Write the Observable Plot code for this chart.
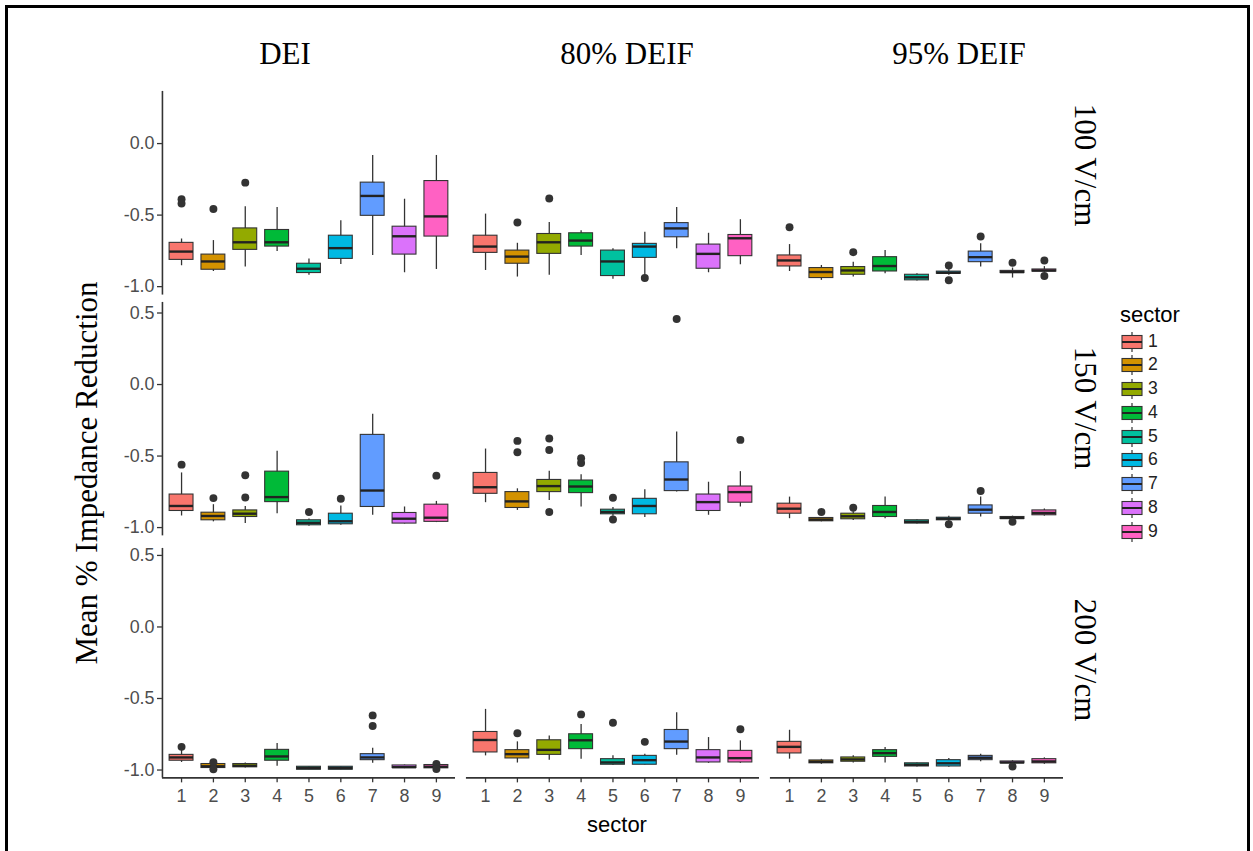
<!DOCTYPE html>
<html><head><meta charset="utf-8">
<script src="https://cdn.jsdelivr.net/npm/d3@7"></script>
<script src="https://cdn.jsdelivr.net/npm/@observablehq/plot@0.6"></script>
<style>
html,body{margin:0;padding:0;background:#fff;overflow:hidden;}
#root{position:relative;width:1253px;height:851px;overflow:hidden;background:#fff;}
.frame{position:absolute;left:5px;top:5px;width:1239px;height:900px;border:3px solid #000;border-bottom:none;}
.t{position:absolute;white-space:nowrap;line-height:1;color:#000;}
.serif{font-family:"Liberation Serif","Times New Roman",serif;font-size:31px;}
.sans{font-family:"Liberation Sans",Arial,Helvetica,sans-serif;}
.row{position:absolute;left:0;width:1064px;overflow:hidden;}
</style></head><body><div id="root"><div class="frame"></div></div>
<script>
// ---------- data ----------
const conditions = ["DEI", "80% DEIF", "95% DEIF"];
const fields = ["100 V/cm", "150 V/cm", "200 V/cm"];
const sectors = [1, 2, 3, 4, 5, 6, 7, 8, 9];
const palette = ["#F8766D","#D39200","#93AA00","#00BA38","#00C19F","#00B9E3","#619CFF","#DB72FB","#FF61C3"];

// each stat: [DEI, 80% DEIF, 95% DEIF] x sectors 1..9
const lo100  = [[-0.854,-0.894,-0.863,-0.755,-0.921,-0.845,-0.782,-0.903,-0.880],
                [-0.887,-0.933,-0.921,-0.782,-0.949,-0.921,-0.736,-0.903,-0.847],
                [-0.894,-0.956,-0.933,-0.910,-0.960,-0.920,-0.863,-0.940,-0.900]];
const q1_100 = [[-0.813,-0.882,-0.743,-0.720,-0.905,-0.806,-0.505,-0.776,-0.650],
                [-0.764,-0.840,-0.771,-0.720,-0.926,-0.799,-0.655,-0.875,-0.787],
                [-0.859,-0.940,-0.917,-0.894,-0.956,-0.910,-0.829,-0.905,-0.895]];
const med100 = [[-0.755,-0.824,-0.690,-0.690,-0.875,-0.731,-0.366,-0.648,-0.509],
                [-0.720,-0.790,-0.690,-0.678,-0.824,-0.720,-0.593,-0.771,-0.662],
                [-0.817,-0.898,-0.887,-0.856,-0.935,-0.903,-0.794,-0.898,-0.887]];
const q3_100 = [[-0.694,-0.776,-0.593,-0.604,-0.840,-0.644,-0.273,-0.581,-0.262],
                [-0.644,-0.748,-0.632,-0.627,-0.748,-0.701,-0.556,-0.706,-0.639],
                [-0.782,-0.870,-0.863,-0.794,-0.917,-0.895,-0.755,-0.890,-0.880]];
const hi100  = [[-0.667,-0.678,-0.442,-0.447,-0.806,-0.540,-0.083,-0.389,-0.083],
                [-0.493,-0.697,-0.551,-0.609,-0.736,-0.620,-0.447,-0.627,-0.532],
                [-0.706,-0.852,-0.829,-0.748,-0.910,-0.880,-0.701,-0.870,-0.860]];
const out100 = [["DEI",1,-0.389],["DEI",1,-0.419],["DEI",2,-0.458],["DEI",3,-0.273],
                ["80% DEIF",2,-0.551],["80% DEIF",3,-0.384],["80% DEIF",6,-0.940],
                ["95% DEIF",1,-0.585],["95% DEIF",3,-0.759],["95% DEIF",6,-0.852],["95% DEIF",6,-0.956],
                ["95% DEIF",7,-0.650],["95% DEIF",8,-0.833],["95% DEIF",9,-0.817],["95% DEIF",9,-0.926]];

const lo150  = [[-0.919,-0.960,-0.972,-0.903,-0.990,-0.984,-0.914,-0.975,-0.965],
                [-0.826,-0.880,-0.810,-0.856,-0.920,-0.930,-0.752,-0.914,-0.856],
                [-0.938,-0.960,-0.950,-0.938,-0.975,-0.960,-0.926,-0.945,-0.920]];
const q1_150 = [[-0.884,-0.949,-0.926,-0.822,-0.984,-0.977,-0.856,-0.972,-0.960],
                [-0.764,-0.863,-0.752,-0.759,-0.907,-0.907,-0.745,-0.884,-0.826],
                [-0.903,-0.956,-0.942,-0.926,-0.972,-0.949,-0.903,-0.940,-0.914]];
const med150 = [[-0.849,-0.919,-0.903,-0.787,-0.967,-0.956,-0.741,-0.938,-0.931],
                [-0.718,-0.817,-0.710,-0.713,-0.891,-0.849,-0.664,-0.822,-0.752],
                [-0.868,-0.944,-0.921,-0.891,-0.960,-0.938,-0.875,-0.933,-0.898]];
const q3_150 = [[-0.769,-0.896,-0.880,-0.609,-0.949,-0.903,-0.352,-0.898,-0.840],
                [-0.618,-0.752,-0.667,-0.671,-0.875,-0.799,-0.544,-0.769,-0.713],
                [-0.833,-0.933,-0.903,-0.849,-0.949,-0.931,-0.845,-0.926,-0.880]];
const hi150  = [[-0.618,-0.840,-0.852,-0.467,-0.940,-0.850,-0.208,-0.856,-0.817],
                [-0.451,-0.729,-0.606,-0.630,-0.860,-0.736,-0.331,-0.683,-0.609],
                [-0.787,-0.930,-0.890,-0.787,-0.945,-0.920,-0.787,-0.920,-0.870]];
const out150 = [["DEI",1,-0.560],["DEI",2,-0.794],["DEI",3,-0.634],["DEI",3,-0.790],["DEI",5,-0.891],
                ["DEI",6,-0.799],["DEI",9,-0.637],
                ["80% DEIF",2,-0.394],["80% DEIF",2,-0.474],["80% DEIF",3,-0.377],["80% DEIF",3,-0.458],
                ["80% DEIF",3,-0.891],["80% DEIF",4,-0.516],["80% DEIF",4,-0.549],["80% DEIF",5,-0.792],
                ["80% DEIF",5,-0.944],["80% DEIF",7,0.458],["80% DEIF",9,-0.387],
                ["95% DEIF",2,-0.891],["95% DEIF",3,-0.861],["95% DEIF",6,-0.977],["95% DEIF",7,-0.745],
                ["95% DEIF",8,-0.960]];

const lo200  = [[-0.947,-0.990,-0.985,-0.974,-0.998,-0.998,-0.953,-0.990,-0.990],
                [-0.901,-0.951,-0.931,-0.924,-0.968,-0.965,-0.896,-0.953,-0.953],
                [-0.924,-0.960,-0.950,-0.951,-0.978,-0.980,-0.942,-0.960,-0.960]];
const q1_200 = [[-0.935,-0.986,-0.981,-0.935,-0.998,-0.998,-0.931,-0.986,-0.988],
                [-0.877,-0.919,-0.894,-0.854,-0.963,-0.963,-0.854,-0.947,-0.947],
                [-0.884,-0.953,-0.942,-0.908,-0.975,-0.975,-0.931,-0.953,-0.953]];
const med200 = [[-0.912,-0.974,-0.970,-0.905,-0.986,-0.986,-0.912,-0.980,-0.977],
                [-0.790,-0.889,-0.859,-0.792,-0.947,-0.931,-0.801,-0.912,-0.917],
                [-0.838,-0.942,-0.926,-0.882,-0.963,-0.953,-0.914,-0.947,-0.940]];
const q3_200 = [[-0.894,-0.958,-0.958,-0.859,-0.977,-0.977,-0.889,-0.968,-0.965],
                [-0.734,-0.861,-0.792,-0.750,-0.924,-0.901,-0.720,-0.861,-0.866],
                [-0.803,-0.933,-0.912,-0.861,-0.953,-0.931,-0.901,-0.940,-0.924]];
const hi200  = [[-0.863,-0.952,-0.950,-0.815,-0.975,-0.975,-0.847,-0.965,-0.960],
                [-0.576,-0.803,-0.762,-0.681,-0.901,-0.889,-0.600,-0.773,-0.796],
                [-0.722,-0.925,-0.900,-0.843,-0.950,-0.920,-0.889,-0.935,-0.915]];
const out200 = [["DEI",1,-0.838],["DEI",2,-0.945],["DEI",2,-0.995],["DEI",7,-0.618],["DEI",7,-0.692],
                ["DEI",9,-0.958],["DEI",9,-0.993],
                ["80% DEIF",2,-0.743],["80% DEIF",4,-0.611],["80% DEIF",5,-0.669],["80% DEIF",6,-0.803],
                ["80% DEIF",9,-0.715],["95% DEIF",8,-0.975]];

const yTickValues = [-1, -0.5, 0, 0.5];

// ---------- tables built from the arrays ----------
const stats = {
  "100 V/cm": [lo100, q1_100, med100, q3_100, hi100],
  "150 V/cm": [lo150, q1_150, med150, q3_150, hi150],
  "200 V/cm": [lo200, q1_200, med200, q3_200, hi200]
};
const outs = {"100 V/cm": out100, "150 V/cm": out150, "200 V/cm": out200};

function boxTable(field) {
  const [lo, q1, med, q3, hi] = stats[field];
  const rows = [];
  conditions.forEach((cond, ci) => sectors.forEach((s, si) => rows.push({
    cond, sector: s, lo: lo[ci][si], q1: q1[ci][si], med: med[ci][si], q3: q3[ci][si], hi: hi[ci][si]
  })));
  return rows;
}
function outTable(field) {
  return outs[field].map(([cond, sector, value]) => ({cond, sector, value}));
}

// ---------- layout ----------
const root = document.getElementById("root");
const sansFont = '"Liberation Sans", Arial, Helvetica, sans-serif';
const halfBox = 0.375;
const pad = 12; // room above each panel so tick labels are not clipped
// [top px, panel height px, y max, y min]
const rowLayout = [
  [91, 205, 0.3646, -1.059],
  [302, 235, 0.574, -1.058],
  [548, 231, 0.549, -1.055]
];

fields.forEach((field, i) => {
  const [top, h, ymax, ymin] = rowLayout[i];
  const last = i === fields.length - 1;
  const mb = last ? 50 : 0;
  const data = boxTable(field);
  const od = outTable(field);
  const plot = Plot.plot({
    width: 1071,
    height: h + mb + pad,
    marginLeft: 162, marginRight: 0, marginTop: pad, marginBottom: mb,
    fx: {domain: conditions, paddingInner: 0.037, paddingOuter: 0, axis: null, label: null},
    x: {domain: [0.4, 9.6], label: null, axis: null},
    y: {domain: [ymin, ymax], label: null, axis: null},
    color: {domain: sectors, range: palette},
    style: {fontFamily: sansFont, fontSize: "18px", background: "transparent", overflow: "visible", color: "#333"},
    marks: [
      Plot.axisY({ticks: yTickValues.filter(t => t >= ymin && t <= ymax), tickFormat: d => d.toFixed(1),
                  tickSize: 5, tickPadding: 3, stroke: "#333", strokeWidth: 1.3, fill: "#4d4d4d",
                  fontSize: 18, label: null}),
      last ? Plot.axisX({ticks: sectors, tickFormat: d => String(d), tickSize: 5, tickPadding: 6,
                  stroke: "#333", strokeWidth: 1.3, fill: "#4d4d4d", fontSize: 18, label: null}) : null,
      Plot.ruleX([{cond: "DEI"}], {fx: "cond", x: () => 0.4, stroke: "#333", strokeWidth: 1.6}),
      last ? Plot.ruleY([ymin], {stroke: "#333", strokeWidth: 1.6}) : null,
      Plot.ruleX(data, {fx: "cond", x: "sector", y1: "lo", y2: "hi", stroke: "#333", strokeWidth: 1.3}),
      Plot.rect(data, {fx: "cond", x1: d => d.sector - halfBox, x2: d => d.sector + halfBox,
                       y1: "q1", y2: "q3", fill: "sector", stroke: "#333", strokeWidth: 1.1}),
      Plot.ruleY(data, {fx: "cond", x1: d => d.sector - halfBox, x2: d => d.sector + halfBox,
                        y: "med", stroke: "#222", strokeWidth: 2.4}),
      Plot.dot(od, {fx: "cond", x: "sector", y: "value", r: 4, fill: "#333", stroke: "none"})
    ]
  });
  const wrap = document.createElement("div");
  wrap.className = "row";
  wrap.style.top = (top - pad) + "px";
  wrap.style.height = (h + mb + pad) + "px";
  wrap.appendChild(plot);
  root.appendChild(wrap);
});

// ---------- text ----------
function addText(txt, cls, css) {
  const d = document.createElement("div");
  d.className = "t " + cls;
  d.textContent = txt;
  Object.assign(d.style, css);
  root.appendChild(d);
  return d;
}
const colLabelX = [285, 627, 959];
conditions.forEach((c, i) => addText(c, "serif", {left: colLabelX[i] + "px", top: "52.5px", transform: "translate(-50%,-50%)"}));
const rowLabelY = [165, 408, 660];
fields.forEach((f, i) => addText(f, "serif", {left: "1085px", top: rowLabelY[i] + "px", transform: "translate(-50%,-50%) rotate(90deg)"}));
addText("Mean % Impedance Reduction", "serif", {left: "86px", top: "473px", transform: "translate(-50%,-50%) rotate(-90deg)"});
addText("sector", "sans", {left: "617px", top: "814px", fontSize: "22px", transform: "translateX(-50%)"});

// ---------- legend ----------
addText("sector", "sans", {left: "1120px", top: "304px", fontSize: "22px"});
sectors.forEach((s, i) => {
  const cy = 341.7 + 23.75 * i;
  const key = document.createElementNS("http://www.w3.org/2000/svg", "svg");
  key.setAttribute("width", 24); key.setAttribute("height", 22);
  key.style.position = "absolute";
  key.style.left = "1120px";
  key.style.top = (cy - 11) + "px";
  key.innerHTML = `<line x1="12" x2="12" y1="1" y2="21" stroke="#333" stroke-width="1.2"/>
    <rect x="2" y="4.5" width="20" height="13" fill="${palette[i]}" stroke="#333" stroke-width="1.1"/>
    <line x1="2" x2="22" y1="11" y2="11" stroke="#222" stroke-width="2"/>`;
  root.appendChild(key);
  addText(String(s), "sans", {left: "1148px", top: cy + "px", fontSize: "17.6px", transform: "translateY(-50%)", color: "#222"});
});
</script>
</body></html>
